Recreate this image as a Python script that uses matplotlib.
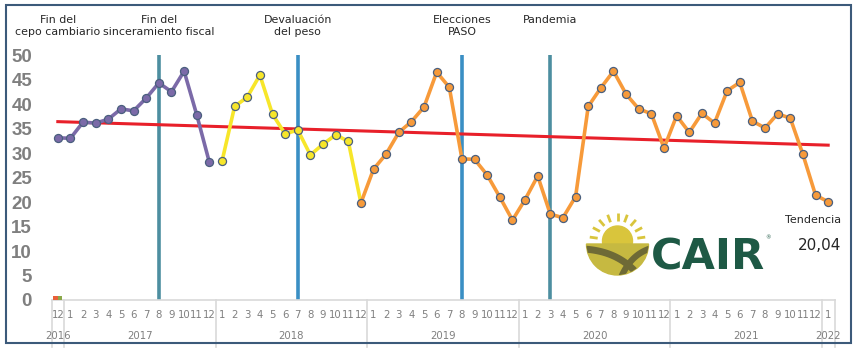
import numpy as np
import matplotlib
matplotlib.use("Agg")
import matplotlib.pyplot as plt
from matplotlib.patches import Circle, Wedge, Rectangle
from matplotlib.transforms import blended_transform_factory

# monthly values, Dec 2016 .. Jan 2022
values = [33.1,
          33.0, 36.3, 36.1, 36.9, 39.0, 38.6, 41.2, 44.3, 42.5, 46.7, 37.8, 28.1,
          28.3, 39.5, 41.4, 45.9, 37.9, 33.9, 34.7, 29.6, 31.8, 33.7, 32.4, 19.8,
          26.7, 29.8, 34.2, 36.4, 39.4, 46.5, 43.4, 28.8, 28.7, 25.5, 21.0, 16.3,
          20.5, 25.3, 17.5, 16.8, 21.1, 39.5, 43.3, 46.7, 42.0, 39.0, 38.0, 31.0,
          37.6, 34.2, 38.1, 36.1, 42.7, 44.4, 36.5, 35.1, 38.0, 37.1, 29.7, 21.4,
          20.04]
months = [12] + list(range(1, 13)) * 5 + [1]
years = ["2016", "2017", "2018", "2019", "2020", "2021", "2022"]
year_len = [1, 12, 12, 12, 12, 12, 1]

purple_idx = (0, 13)     # Dec16 - Dec17
yellow_idx = (13, 25)    # Jan18 - Dec18 (line reaches Dec18)
orange_idx = (24, 62)    # Dec18 - Jan22

trend_ends = [36.4, 31.6]
tiny_bars = [0.8, 0.8]

events = ["Fin del\ncepo cambiario", "Fin del\nsinceramiento fiscal",
          "Devaluación\ndel peso", "Elecciones\nPASO", "Pandemia"]
event_label_x = [0, 8, 19, 32, 39]
event_lines = [8, 19, 32, 39]
event_colors = ["#4d8ea0", "#3a8fc4", "#3a8fc4", "#4d8ea0"]

fig = plt.figure(figsize=(8.59, 3.5), dpi=100)
ax = fig.add_axes([51.5 / 859, 50 / 350, 783 / 859, 245 / 350])
x = np.arange(len(values))

for xv, c in zip(event_lines, event_colors):
    ax.axvline(xv, color=c, lw=2.6, zorder=2)

ax.plot([x[0], x[-1]], trend_ends, color="#e8202a", lw=2.2, zorder=3)

mk = dict(marker="o", ms=5.8, mec="#4a5f7e", mew=0.9)
a, b = purple_idx
ax.plot(x[a:b], values[a:b], color="#7b6aa8", lw=2.6, zorder=4, **mk)
a, b = yellow_idx
ax.plot(x[a:b], values[a:b], color="#f7e62a", lw=2.6, zorder=4)
ax.plot(x[a:b - 1], values[a:b - 1], ls="none", mfc="#f7e62a", zorder=5, **mk)
a, b = orange_idx
ax.plot(x[a:b], values[a:b], color="#f79a3a", lw=2.6, zorder=6, **mk)

ax.bar([-0.18, 0.18], tiny_bars, width=0.34, color=["#e8603a", "#8aa84a"], zorder=3)

ax.set_xlim(-0.5, len(values) - 0.5)
ax.set_ylim(0, 50)
ax.set_yticks(range(0, 51, 5))
ax.tick_params(axis="y", length=0, pad=14, labelsize=13.5, labelcolor="#7f7f7f")
for t in ax.get_yticklabels():
    t.set_fontweight("bold")
    t.set_family("Liberation Sans")
ax.set_xticks([])
for s in ["top", "right", "left"]:
    ax.spines[s].set_visible(False)
ax.spines["bottom"].set_color("#d9d9d9")
ax.spines["bottom"].set_linewidth(1.2)

tr = blended_transform_factory(ax.transData, ax.transAxes)
for i, m in enumerate(months):
    ax.text(i, -0.06, str(m), transform=tr, ha="center", va="center",
            fontsize=7.3, color="#7f7f7f")
start = -0.5
bounds = [start]
for name, n in zip(years, year_len):
    ax.text(start + n / 2, -0.145, name, transform=tr, ha="center", va="center",
            fontsize=7.3, color="#7f7f7f")
    start += n
    bounds.append(start)
for bx in bounds:
    ax.plot([bx, bx], [0, -0.19], transform=tr, color="#d9d9d9", lw=1.2, clip_on=False)

for lab, xv in zip(events, event_label_x):
    ax.text(xv, 1.162, lab, transform=tr, ha="center", va="top",
            fontsize=7.9, color="#262626", linespacing=1.15)

# overlay in pixel coordinates for logo, trend value and frame
ov = fig.add_axes([0, 0, 1, 1], zorder=10)
ov.set_xlim(0, 859)
ov.set_ylim(350, 0)
ov.axis("off")
ov.patch.set_alpha(0)
ov.add_patch(Rectangle((6, 5), 845, 338, fill=False, ec="#3c5a7a", lw=1.5))

ov.text(813, 220, "Tendencia", ha="center", va="center", fontsize=8, color="#262626")
ov.text(820, 246, "20,04", ha="center", va="center", fontsize=11, color="#262626")

cx, cy = 617.5, 244
sun = "#d9c53c"
ov.add_patch(Circle((cx, cy - 3), 15, color=sun))
for ang in np.linspace(8, 172, 9):
    r = np.radians(ang)
    ov.plot([cx + 20 * np.cos(r), cx + 28 * np.cos(r)],
            [cy - 3 - 20 * np.sin(r), cy - 3 - 28 * np.sin(r)],
            color=sun, lw=2.0, solid_capstyle="butt")
field = Wedge((cx, cy), 31, 0, 180, color="#c6b941")
ov.add_patch(field)
t = np.linspace(0, 1, 40)[:, None]
for p0, p1, p2, w in [((583, 249), (622, 251), (642, 280), 5.0),
                      ((652, 248), (630, 254), (620, 280), 4.5)]:
    p0, p1, p2 = map(np.array, (p0, p1, p2))
    curve = (1 - t) ** 2 * p0 + 2 * (1 - t) * t * p1 + t ** 2 * p2
    ln, = ov.plot(curve[:, 0], curve[:, 1], color="#6e6a36", lw=w,
                  solid_capstyle="butt")
    ln.set_clip_path(field)
ov.text(651, 269, "CAIR", ha="left", va="baseline", fontsize=31,
        fontweight="heavy", color="#1e5945")
ov.text(768, 238, "®", ha="center", va="center", fontsize=4, color="#1e5945")

fig.savefig("out.png", dpi=100)
